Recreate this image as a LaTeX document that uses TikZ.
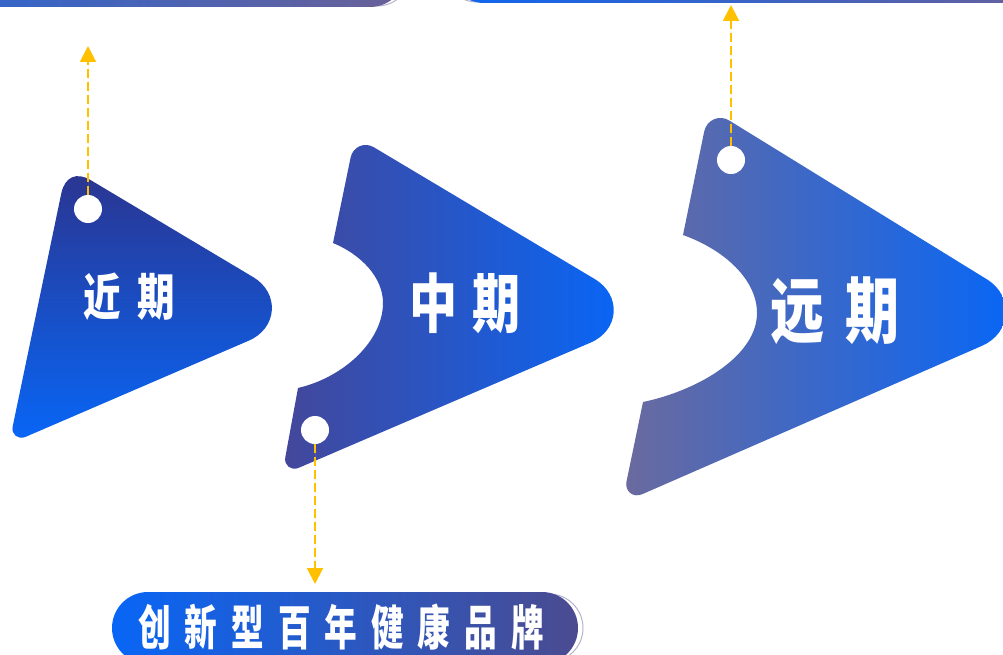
\documentclass[tikz,border=0pt]{standalone}
\usepackage{fontspec}
\usepackage{tikz}
\usetikzlibrary{arrows.meta}
\newfontfamily\cjk[FakeStretch=0.75]{Noto Sans CJK SC}
\newfontfamily\cjkn[FakeStretch=0.68]{Noto Sans CJK SC}
\definecolor{gold}{HTML}{FFC000}
\definecolor{navy}{HTML}{2B3590}
\definecolor{brightblue}{HTML}{0866F6}
\definecolor{slateblue}{HTML}{44479A}
\definecolor{greyviolet}{HTML}{6A6A9E}
\definecolor{barblue}{HTML}{2E66CE}
\definecolor{barviolet}{HTML}{6A6098}
\definecolor{pillviolet}{HTML}{4B4B90}
\definecolor{ringgray}{HTML}{B4B2CC}
\newcommand\gapc{\hspace{14pt}}

\begin{document}
\begin{tikzpicture}[x=1pt, y=-1pt, >={Triangle[length=16pt, width=16pt]},
  hole/.style={circle, fill=white, inner sep=0pt, minimum size=28pt},
  lead/.style={->, draw=gold, fill=gold, line width=2pt, dash pattern=on 9pt off 4pt},
  stage/.style={text=white, inner sep=0pt, font=\cjk\bfseries\fontsize{#1}{#1}\selectfont},
  ring/.style={draw=ringgray, line width=1pt, rounded corners=34pt}]
  \useasboundingbox (0,0) rectangle (1003,655);
  \clip (0,0) rectangle (1003,655);
  % Top bars (cut off)
  \draw[ring] (-50,-63) rectangle (411,6);
  \path[left color=barblue, right color=barviolet, rounded corners=36pt] (-55,-65) rectangle (406,7);
  \draw[ring] (443,-67) rectangle (1065,2);
  \path[left color=brightblue!85!barblue, right color=barviolet, rounded corners=36pt] (448,-69) rectangle (1070,3);
  % Stage shapes
  \path[top color=navy, bottom color=brightblue]
    (90.8,180.2) -- (253,277) .. controls (280,293) and (277.7,328.2) .. (248.7,340.7)
    -- (25.5,436.9) .. controls (18.1,440.1) and (11,434.3) .. (12.7,426.4)
    -- (61.3,193.4) .. controls (64.8,176.8) and (76.4,171.6) .. cycle;
  \path[left color=slateblue, right color=brightblue]
    (373.9,147.3) -- (594.8,279.1) .. controls (621.8,295.3) and (619.5,330.2) .. (590.6,342.6)
    -- (298.5,467.9) .. controls (291.1,471.1) and (283.8,465.3) .. (285.3,457.3)
    -- (298,388) .. controls (345,377) and (383,340) .. (383,303)
    .. controls (383,278) and (362,255) .. (333,243)
    -- (350.6,157.6) .. controls (352.8,146.8) and (364.5,141.6) .. cycle;
  \path[left color=greyviolet, right color=brightblue]
    (729.4,120.6) -- (986.7,279.2) .. controls (1014.3,296.2) and (1011.7,332.8) .. (982,345.8)
    -- (642.2,494.2) .. controls (633.1,498.2) and (624.5,491.2) .. (626.5,481.5)
    -- (643,402) .. controls (700,390) and (757,355) .. (757,313)
    .. controls (757,280) and (725,250) .. (683,235)
    -- (704.2,131.5) .. controls (706.6,119.8) and (719.2,114.3) .. cycle;
  % Labels
  \node[stage=50] (near) at (129,297) {近\hspace{17pt}期};
  \node[stage=64] (mid) at (465,303) {中\hspace{16pt}期};
  \node[stage=72] (far) at (835,311) {远\hspace{21pt}期};
  % Holes and leads
  \node[hole] (dot1) at (88,209) {};
  \node[hole] (dot2) at (315,430) {};
  \node[hole] (dot3) at (731,160) {};
  \coordinate (end1) at (88,46);
  \coordinate (end2) at (315,584);
  \coordinate (end3) at (731,5);
  \draw[lead] (dot1.north) -- (end1);
  \draw[lead] (dot2.south) -- (end2);
  \draw[lead] (dot3.north) -- (end3);
  % Brand bar
  \draw[ring] (117,594) rectangle (583,662);
  \node[left color=brightblue, right color=pillviolet, rounded corners=36pt,
    minimum width=466pt, minimum height=72pt, inner sep=0pt] (bar) at (345,628) {};
  \node[text=white, inner sep=0pt, font=\cjkn\bfseries\fontsize{48}{48}\selectfont]
    (brand) at (341,627) {创\gapc 新\gapc 型\gapc 百\gapc 年\gapc 健\gapc 康\gapc 品\gapc 牌};
\end{tikzpicture}
\end{document}
